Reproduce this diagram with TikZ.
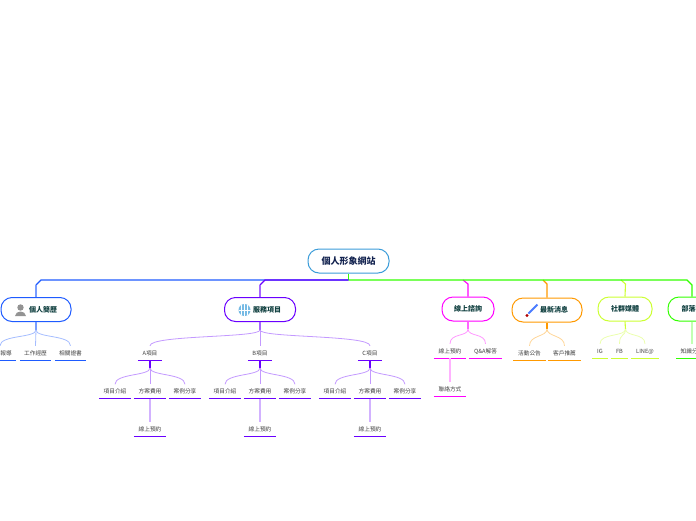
\documentclass[tikz,border=0pt]{standalone}
\usepackage{fontspec}
\setmainfont{Noto Sans CJK TC}
\usepackage{tikz}
\definecolor{rootblue}{HTML}{3B9CD9}
\definecolor{navytext}{HTML}{12224F}
\definecolor{headtext}{HTML}{0F3F3F}
\definecolor{leaftext}{HTML}{404040}
\definecolor{cblue}{HTML}{1E5BFF}
\definecolor{cpurple}{HTML}{6A00FF}
\definecolor{cmagenta}{HTML}{FF00FF}
\definecolor{corange}{HTML}{FF9900}
\definecolor{cyellow}{HTML}{CCFF33}
\definecolor{cgreen}{HTML}{33FF00}
\tikzset{
  rootbox/.style={draw=rootblue, line width=1pt, rounded corners=11pt, fill=white, minimum width=81pt, minimum height=24pt, inner sep=0pt, font=\fontsize{9}{10}\selectfont\bfseries, text=navytext},
  headbox/.style n args={2}{draw=#1, line width=1pt, rounded corners=11pt, fill=white, minimum width=#2pt, minimum height=24pt, inner sep=0pt, font=\fontsize{7}{8}\selectfont\bfseries, text=headtext},
  leaf/.style n args={2}{minimum width=#2pt, minimum height=14pt, inner sep=0pt, text height=5pt, text depth=1pt, font=\fontsize{5.7}{6}\selectfont, text=leaftext, append after command={(\tikzlastnode.south west) edge[draw=#1, line width=1.3pt] (\tikzlastnode.south east)}},
  trunk/.style={draw=#1, line width=1.1pt},
  stub/.style={draw=#1!60, line width=1.8pt},
  riser/.style={draw=#1!30, line width=1.5pt},
  branch/.style={draw=#1!40, line width=0.8pt},
}
\newcommand{\curveto}{.. controls +(0,8) and +(0,-11) ..}
\begin{document}
\begin{tikzpicture}[x=1pt,y=-1pt]
\useasboundingbox (0,0) rectangle (696,520);
\node[rootbox] (root) at (348.5,261) {個人形象網站};
\node[headbox={cblue}{70}] (resume) at (36,309.5) {\hspace{14pt}個人簡歷};
\node[headbox={cpurple}{71}] (service) at (260,309.5) {\hspace{14pt}服務項目};
\node[headbox={cmagenta}{52}] (inquiry) at (468,309) {線上諮詢};
\node[headbox={corange}{70}] (news) at (547,310) {\hspace{14pt}最新消息};
\node[headbox={cyellow}{54}] (social) at (625,309) {社群媒體};
\node[headbox={cgreen}{48}] (blog) at (692,309) {部落格};
\coordinate (bus) at (348.5,280);
\coordinate (busa) at (41,280);
\coordinate (bendb) at (36,285);
\coordinate (busc) at (265,280);
\coordinate (bendd) at (260,285);
\coordinate (buse) at (463,280);
\coordinate (bendf) at (468,284);
\coordinate (busg) at (543,280);
\coordinate (bendh) at (547,284);
\coordinate (busi) at (621,280);
\coordinate (bendj) at (625.5,284);
\coordinate (busk) at (687,280);
\coordinate (bendl) at (692,285);
\draw[trunk=cgreen] (root.south) -- (bus);
\draw[trunk=cblue] (bus) -- (busa) -- (bendb);
\draw[stub=cblue] (bendb) -- (resume.north);
\draw[trunk=cpurple] (bus) -- (busc) -- (bendd);
\draw[stub=cpurple] (bendd) -- (service.north);
\draw[trunk=cmagenta] (buse) -- (bendf) -- (inquiry.north);
\draw[trunk=corange] (busg) -- (bendh) -- (news.north);
\draw[trunk=cyellow] (busi) -- (bendj) -- (social.north);
\draw[trunk=cgreen] (bus) -- (busk) -- (bendl) -- (blog.north);
\node[leaf={cblue}{32}] (resumea) at (0,353) {\hspace{12pt}報導};
\node[leaf={cblue}{31}] (resumeb) at (35.5,353) {工作經歷};
\node[leaf={cblue}{31}] (resumec) at (70.5,353) {相關證書};
\coordinate (resumehub) at (36,330);
\draw[stub=cblue] (resume.south) -- (resumehub);
\draw[branch=cblue] (resumehub) \curveto (resumea.north);
\draw[branch=cblue] (resumehub) -- (resumeb.north);
\draw[branch=cblue] (resumehub) \curveto (resumec.north);
\node[leaf={cpurple}{24}] (proja) at (150,353) {A項目};
\node[leaf={cpurple}{24}] (projb) at (260,353) {B項目};
\node[leaf={cpurple}{24}] (projc) at (370,353) {C項目};
\coordinate (servicehub) at (260,330);
\draw[stub=cpurple] (service.south) -- (servicehub);
\draw[branch=cpurple] (servicehub) \curveto (proja.north);
\draw[branch=cpurple] (servicehub) -- (projb.north);
\draw[branch=cpurple] (servicehub) \curveto (projc.north);
\node[leaf={cpurple}{32}] (aintro) at (115,391.5) {項目介紹};
\node[leaf={cpurple}{32}] (aplan) at (150,391.5) {方案費用};
\node[leaf={cpurple}{32}] (acase) at (185,391.5) {案例分享};
\node[leaf={cpurple}{32}] (abook) at (150,429.5) {線上預約};
\coordinate (ahub) at (150,368);
\draw[trunk=cpurple] (proja.south) -- (ahub);
\draw[branch=cpurple] (ahub) \curveto (aintro.north);
\draw[branch=cpurple] (ahub) -- (aplan.north);
\draw[branch=cpurple] (ahub) \curveto (acase.north);
\draw[riser=cpurple] (aplan.south) -- (abook.north);
\node[leaf={cpurple}{32}] (bintro) at (225,391.5) {項目介紹};
\node[leaf={cpurple}{32}] (bplan) at (260,391.5) {方案費用};
\node[leaf={cpurple}{32}] (bcase) at (295,391.5) {案例分享};
\node[leaf={cpurple}{32}] (bbook) at (260,429.5) {線上預約};
\coordinate (bhub) at (260,368);
\draw[trunk=cpurple] (projb.south) -- (bhub);
\draw[branch=cpurple] (bhub) \curveto (bintro.north);
\draw[branch=cpurple] (bhub) -- (bplan.north);
\draw[branch=cpurple] (bhub) \curveto (bcase.north);
\draw[riser=cpurple] (bplan.south) -- (bbook.north);
\node[leaf={cpurple}{32}] (cintro) at (335,391.5) {項目介紹};
\node[leaf={cpurple}{32}] (cplan) at (370,391.5) {方案費用};
\node[leaf={cpurple}{32}] (ccase) at (405,391.5) {案例分享};
\node[leaf={cpurple}{32}] (cbook) at (370,429.5) {線上預約};
\coordinate (chub) at (370,368);
\draw[trunk=cpurple] (projc.south) -- (chub);
\draw[branch=cpurple] (chub) \curveto (cintro.north);
\draw[branch=cpurple] (chub) -- (cplan.north);
\draw[branch=cpurple] (chub) \curveto (ccase.north);
\draw[riser=cpurple] (cplan.south) -- (cbook.north);
\node[leaf={cmagenta}{32}] (booking) at (450,351) {線上預約};
\node[leaf={cmagenta}{33}] (qna) at (485.5,351) {Q\&A解答};
\node[leaf={cmagenta}{32}] (contact) at (450,389) {聯絡方式};
\coordinate (inquiryhub) at (468,329);
\draw[stub=cmagenta] (inquiry.south) -- (inquiryhub);
\draw[branch=cmagenta] (inquiryhub) \curveto (booking.north);
\draw[branch=cmagenta] (inquiryhub) \curveto (qna.north);
\draw[riser=cmagenta] (booking.south) -- (contact.north);
\node[leaf={corange}{32}] (event) at (529.5,353) {活動公告};
\node[leaf={corange}{32}] (review) at (564.5,353) {客戶推薦};
\coordinate (newshub) at (547,329);
\draw[trunk=corange] (news.south) -- (newshub);
\draw[branch=corange] (newshub) \curveto (event.north);
\draw[branch=corange] (newshub) \curveto (review.north);
\node[leaf={cyellow}{16}] (ig) at (600,351) {IG};
\node[leaf={cyellow}{17}] (fb) at (619.5,351) {FB};
\node[leaf={cyellow}{28}] (line) at (645,351) {LINE@};
\coordinate (socialhub) at (625.5,329);
\draw[trunk=cyellow] (social.south) -- (socialhub);
\draw[branch=cyellow] (socialhub) \curveto (ig.north);
\draw[branch=cyellow] (socialhub) \curveto (fb.north);
\draw[branch=cyellow] (socialhub) \curveto (line.north);
\node[leaf={cgreen}{32}] (know) at (692,351) {知識分享};
\draw[riser=cgreen] (blog.south) -- (know.north);
\fill[gray!85] (20.5,307.5) circle (3.2);
\fill[gray!85] (15,316) .. controls (15.5,310) and (25.5,310) .. (26,316) -- cycle;
\fill[rootblue!70] (244.5,310) circle (6);
\draw[white, line width=0.4pt] (244.5,304) -- (244.5,316) (238.5,310) -- (250.5,310) (241.5,305) -- (241.5,315) (247.5,305) -- (247.5,315);
\draw[cblue!80, line width=2pt] (528.5,313.5) -- (537.5,304.5);
\fill[red!70!black] (527,315.5) circle (1.7);
\end{tikzpicture}
\end{document}
